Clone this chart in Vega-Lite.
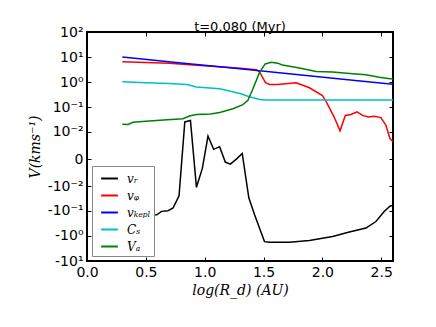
{
  "$schema": "https://vega.github.io/schema/vega-lite/v6.json",
  "width": 306,
  "height": 229,
  "autosize": "none",
  "padding": {"left": 87, "top": 32, "right": 43, "bottom": 66},
  "background": "white",
  "title": {"text": "t=0.080 (Myr)", "font": "DejaVu Sans", "fontSize": 13, "fontWeight": "normal", "color": "black", "offset": -9},
  "config": {
    "view": {"stroke": "black", "strokeWidth": 2},
    "axis": {
      "domain": false, "grid": false, "tickColor": "black", "tickSize": -4, "tickWidth": 1, "labelFlush": false,
      "labelFont": "DejaVu Sans", "labelFontSize": 14, "labelColor": "black",
      "titleFont": "DejaVu Serif", "titleFontStyle": "italic", "titleFontWeight": "normal",
      "titleFontSize": 14, "titleColor": "black"
    },
    "legend": {
      "orient": "bottom-left", "offset": 5, "fillColor": "white", "strokeColor": "#888888",
      "padding": 3, "symbolType": "stroke", "symbolSize": 280, "symbolStrokeWidth": 2,
      "labelFont": "DejaVu Serif", "labelFontStyle": "italic", "labelFontSize": 12, "labelColor": "black",
      "rowPadding": 1, "labelOffset": 8, "symbolOffset": 5
    }
  },
  "data": {"values": [
    {"s": "vᵣ", "x": 0.30, "y": -0.16}, {"s": "vᵣ", "x": 0.35, "y": -0.17}, {"s": "vᵣ", "x": 0.40, "y": -0.18},
    {"s": "vᵣ", "x": 0.45, "y": -0.17}, {"s": "vᵣ", "x": 0.50, "y": -0.16}, {"s": "vᵣ", "x": 0.55, "y": -0.15},
    {"s": "vᵣ", "x": 0.593, "y": -0.145}, {"s": "vᵣ", "x": 0.633, "y": -0.106}, {"s": "vᵣ", "x": 0.689, "y": -0.10},
    {"s": "vᵣ", "x": 0.731, "y": -0.078}, {"s": "vᵣ", "x": 0.782, "y": -0.025}, {"s": "vᵣ", "x": 0.831, "y": 0.026},
    {"s": "vᵣ", "x": 0.879, "y": 0.030}, {"s": "vᵣ", "x": 0.93, "y": -0.011}, {"s": "vᵣ", "x": 0.98, "y": -0.0012},
    {"s": "vᵣ", "x": 1.028, "y": 0.0065}, {"s": "vᵣ", "x": 1.076, "y": 0.0013}, {"s": "vᵣ", "x": 1.127, "y": 0.0019},
    {"s": "vᵣ", "x": 1.175, "y": -0.00028}, {"s": "vᵣ", "x": 1.218, "y": -0.00052}, {"s": "vᵣ", "x": 1.269, "y": 0.0},
    {"s": "vᵣ", "x": 1.319, "y": 0.00061}, {"s": "vᵣ", "x": 1.375, "y": -0.030}, {"s": "vᵣ", "x": 1.424, "y": -0.145},
    {"s": "vᵣ", "x": 1.508, "y": -1.7}, {"s": "vᵣ", "x": 1.55, "y": -1.8}, {"s": "vᵣ", "x": 1.72, "y": -1.8},
    {"s": "vᵣ", "x": 1.89, "y": -1.54}, {"s": "vᵣ", "x": 2.087, "y": -1.07}, {"s": "vᵣ", "x": 2.229, "y": -0.71},
    {"s": "vᵣ", "x": 2.37, "y": -0.49}, {"s": "vᵣ", "x": 2.455, "y": -0.27}, {"s": "vᵣ", "x": 2.525, "y": -0.107},
    {"s": "vᵣ", "x": 2.574, "y": -0.066}, {"s": "vᵣ", "x": 2.6, "y": -0.06},

    {"s": "vᵩ", "x": 0.30, "y": 6.6}, {"s": "vᵩ", "x": 0.5, "y": 6.2}, {"s": "vᵩ", "x": 0.7, "y": 5.7},
    {"s": "vᵩ", "x": 0.9, "y": 4.9}, {"s": "vᵩ", "x": 1.127, "y": 4.2}, {"s": "vᵩ", "x": 1.3, "y": 3.6},
    {"s": "vᵩ", "x": 1.438, "y": 3.2}, {"s": "vᵩ", "x": 1.466, "y": 2.6}, {"s": "vᵩ", "x": 1.517, "y": 0.97},
    {"s": "vᵩ", "x": 1.551, "y": 0.83}, {"s": "vᵩ", "x": 1.619, "y": 0.83}, {"s": "vᵩ", "x": 1.777, "y": 0.97},
    {"s": "vᵩ", "x": 1.89, "y": 0.61}, {"s": "vᵩ", "x": 2.0, "y": 0.30}, {"s": "vᵩ", "x": 2.03, "y": 0.18},
    {"s": "vᵩ", "x": 2.10, "y": 0.041}, {"s": "vᵩ", "x": 2.15, "y": 0.011}, {"s": "vᵩ", "x": 2.195, "y": 0.048},
    {"s": "vᵩ", "x": 2.243, "y": 0.052}, {"s": "vᵩ", "x": 2.294, "y": 0.067}, {"s": "vᵩ", "x": 2.342, "y": 0.048},
    {"s": "vᵩ", "x": 2.39, "y": 0.041}, {"s": "vᵩ", "x": 2.44, "y": 0.044}, {"s": "vᵩ", "x": 2.497, "y": 0.039},
    {"s": "vᵩ", "x": 2.54, "y": 0.019}, {"s": "vᵩ", "x": 2.574, "y": 0.005}, {"s": "vᵩ", "x": 2.6, "y": 0.0035},

    {"s": "vₖₑₚₗ", "x": 0.3, "y": 10.2}, {"s": "vₖₑₚₗ", "x": 0.8, "y": 5.9}, {"s": "vₖₑₚₗ", "x": 1.3, "y": 3.46},
    {"s": "vₖₑₚₗ", "x": 1.8, "y": 2.02}, {"s": "vₖₑₚₗ", "x": 2.3, "y": 1.17}, {"s": "vₖₑₚₗ", "x": 2.6, "y": 0.85},

    {"s": "Cₛ", "x": 0.30, "y": 1.05}, {"s": "Cₛ", "x": 0.5, "y": 0.97}, {"s": "Cₛ", "x": 0.7, "y": 0.9},
    {"s": "Cₛ", "x": 0.85, "y": 0.83}, {"s": "Cₛ", "x": 0.93, "y": 0.66}, {"s": "Cₛ", "x": 1.127, "y": 0.56},
    {"s": "Cₛ", "x": 1.30, "y": 0.36}, {"s": "Cₛ", "x": 1.38, "y": 0.27}, {"s": "Cₛ", "x": 1.466, "y": 0.21},
    {"s": "Cₛ", "x": 1.52, "y": 0.20}, {"s": "Cₛ", "x": 2.0, "y": 0.20}, {"s": "Cₛ", "x": 2.6, "y": 0.20},

    {"s": "Vₐ", "x": 0.30, "y": 0.021}, {"s": "Vₐ", "x": 0.35, "y": 0.0205}, {"s": "Vₐ", "x": 0.39, "y": 0.025},
    {"s": "Vₐ", "x": 0.5, "y": 0.028}, {"s": "Vₐ", "x": 0.65, "y": 0.031}, {"s": "Vₐ", "x": 0.816, "y": 0.035},
    {"s": "Vₐ", "x": 0.87, "y": 0.045}, {"s": "Vₐ", "x": 0.93, "y": 0.052}, {"s": "Vₐ", "x": 1.05, "y": 0.055},
    {"s": "Vₐ", "x": 1.127, "y": 0.063}, {"s": "Vₐ", "x": 1.24, "y": 0.089}, {"s": "Vₐ", "x": 1.325, "y": 0.13},
    {"s": "Vₐ", "x": 1.367, "y": 0.195}, {"s": "Vₐ", "x": 1.41, "y": 0.56}, {"s": "Vₐ", "x": 1.466, "y": 2.5},
    {"s": "Vₐ", "x": 1.514, "y": 5.4}, {"s": "Vₐ", "x": 1.565, "y": 6.3}, {"s": "Vₐ", "x": 1.62, "y": 5.8},
    {"s": "Vₐ", "x": 1.66, "y": 4.9}, {"s": "Vₐ", "x": 1.805, "y": 3.7}, {"s": "Vₐ", "x": 1.947, "y": 2.7},
    {"s": "Vₐ", "x": 2.087, "y": 2.6}, {"s": "Vₐ", "x": 2.257, "y": 2.2}, {"s": "Vₐ", "x": 2.37, "y": 2.0},
    {"s": "Vₐ", "x": 2.483, "y": 1.6}, {"s": "Vₐ", "x": 2.574, "y": 1.4}, {"s": "Vₐ", "x": 2.6, "y": 1.38}
  ]},
  "layer": [
    {
      "mark": {"type": "line", "strokeWidth": 1.5, "clip": true},
      "encoding": {
        "x": {"field": "x", "type": "quantitative", "scale": {"domain": [0, 2.6], "nice": false, "zero": false},
          "axis": {"values": [0, 0.5, 1, 1.5, 2, 2.5], "format": ".1f", "title": "log(R_d) (AU)", "labelPadding": 8, "titlePadding": 4}},
        "y": {"field": "y", "type": "quantitative",
          "scale": {"type": "symlog", "constant": 0.0009, "domain": [-10, 100], "nice": false, "zero": false},
          "axis": {"values": [100, 10, 1, 0.1, 0.01, 0, -0.01, -0.1, -1, -10],
            "labelExpr": "datum.value == 100 ? '10²' : datum.value == 10 ? '10¹' : datum.value == 1 ? '10⁰' : datum.value == 0.1 ? '10⁻¹' : datum.value == 0.01 ? '10⁻²' : datum.value == 0 ? '0' : datum.value == -0.01 ? '-10⁻²' : datum.value == -0.1 ? '-10⁻¹' : datum.value == -1 ? '-10⁰' : '-10¹'",
            "title": "V(kms⁻¹)", "labelPadding": 8, "titlePadding": 5}},
        "color": {"field": "s", "type": "nominal", "title": null,
          "scale": {"domain": ["vᵣ", "vᵩ", "vₖₑₚₗ", "Cₛ", "Vₐ"], "range": ["#000000", "#ff0000", "#0000ff", "#00bfbf", "#008000"]}}
      }
    },
    {
      "mark": {"type": "point", "opacity": 0},
      "encoding": {
        "x": {"field": "x", "type": "quantitative", "scale": {"domain": [0, 2.6], "nice": false, "zero": false},
          "axis": {"orient": "top", "values": [0, 0.5, 1, 1.5, 2, 2.5], "labels": false, "title": null}},
        "y": {"field": "y", "type": "quantitative",
          "scale": {"type": "symlog", "constant": 0.0009, "domain": [-10, 100], "nice": false, "zero": false},
          "axis": {"orient": "right", "values": [100, 10, 1, 0.1, 0.01, 0, -0.01, -0.1, -1, -10], "labels": false, "title": null}}
      }
    }
  ],
  "resolve": {"scale": {"x": "independent", "y": "independent"}}
}
